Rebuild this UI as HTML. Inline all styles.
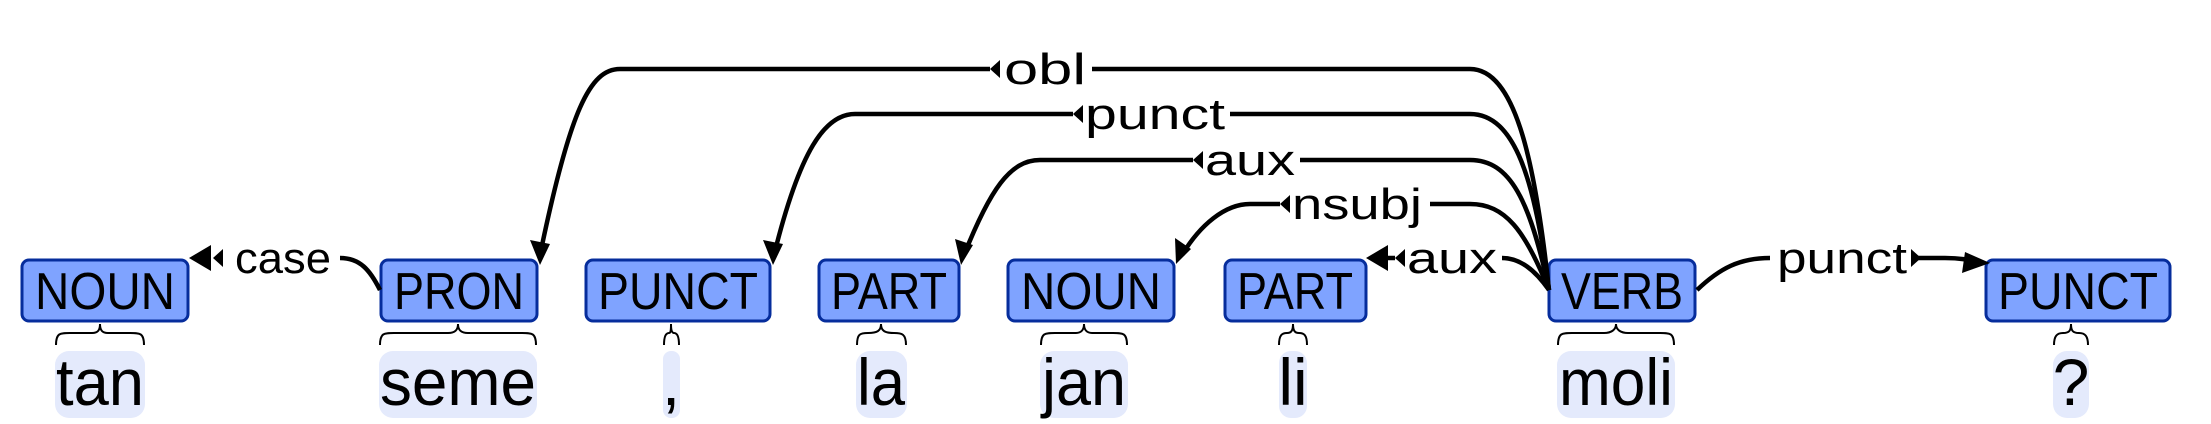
<!DOCTYPE html>
<html><head><meta charset="utf-8"><style>
html,body{margin:0;padding:0;background:#fff;width:2211px;height:424px;overflow:hidden}
text{font-family:"Liberation Sans",sans-serif}
</style></head><body>
<svg width="2211" height="424" viewBox="0 0 2211 424" xmlns="http://www.w3.org/2000/svg">
<g fill="#e4eafc">
<rect x="55" y="351" width="90" height="67" rx="14"/>
<rect x="379" y="351" width="158" height="67" rx="14"/>
<rect x="663" y="351" width="17" height="67" rx="8"/>
<rect x="856" y="351" width="51" height="67" rx="14"/>
<rect x="1040" y="351" width="88" height="67" rx="14"/>
<rect x="1279" y="351" width="28" height="67" rx="12"/>
<rect x="1557" y="351" width="118" height="67" rx="14"/>
<rect x="2053" y="351" width="36" height="67" rx="14"/>
</g>
<g font-size="66" text-anchor="middle" fill="#000">
<text x="100" y="405" textLength="88" lengthAdjust="spacingAndGlyphs">tan</text>
<text x="458" y="405" textLength="156" lengthAdjust="spacingAndGlyphs">seme</text>
<text x="671" y="405">,</text>
<text x="881" y="405" textLength="48" lengthAdjust="spacingAndGlyphs">la</text>
<text x="1084" y="405" textLength="84" lengthAdjust="spacingAndGlyphs">jan</text>
<text x="1293" y="405">li</text>
<text x="1616" y="405" textLength="114" lengthAdjust="spacingAndGlyphs">moli</text>
<text x="2071" y="405">?</text>
</g>
<g fill="none" stroke="#000" stroke-width="2">
<path d="M56,345 C56,333 60,333 70,333 L92,333 C98,333 100,330 100,324 C100,330 102,333 108,333 L130,333 C140,333 144,333 144,345"/>
<path d="M380,345 C380,333 384,333 394,333 L448,333 C455,333 458,330 458,324 C458,330 461,333 468,333 L522,333 C532,333 536,333 536,345"/>
<path d="M664,345 C664,336 666,333 669,333 C671,333 671,330 671,324 C671,330 672,333 674,333 C677,333 679,336 679,345"/>
<path d="M857,345 C857,334 860,333 868,333 C877,333 881,331 881,324 C881,331 885,333 894,333 C902,333 906,334 906,345"/>
<path d="M1041,345 C1041,333 1045,333 1055,333 L1076,333 C1081,333 1084,330 1084,324 C1084,330 1087,333 1092,333 L1113,333 C1123,333 1127,333 1127,345"/>
<path d="M1279,345 C1279,335 1282,333 1287,333 C1291,333 1293,331 1293,324 C1293,331 1295,333 1299,333 C1304,333 1307,335 1307,345"/>
<path d="M1558,345 C1558,333 1562,333 1572,333 L1604,333 C1611,333 1616,330 1616,324 C1616,330 1621,333 1628,333 L1660,333 C1670,333 1674,333 1674,345"/>
<path d="M2054,345 C2054,336 2057,333 2063,333 C2069,333 2071,331 2071,324 C2071,331 2073,333 2079,333 C2085,333 2088,336 2088,345"/>
</g>
<g fill="#7fa3ff" stroke="#062d9c" stroke-width="3">
<rect x="22" y="260" width="166" height="61" rx="7"/>
<rect x="381" y="260" width="156" height="61" rx="7"/>
<rect x="586" y="260" width="184" height="61" rx="7"/>
<rect x="819" y="260" width="140" height="61" rx="7"/>
<rect x="1008" y="260" width="166" height="61" rx="7"/>
<rect x="1225" y="260" width="141" height="61" rx="7"/>
<rect x="1549" y="260" width="146" height="61" rx="7"/>
<rect x="1986" y="260" width="184" height="61" rx="7"/>
</g>
<g font-size="52" text-anchor="middle" fill="#000">
<text x="105" y="309" textLength="140" lengthAdjust="spacingAndGlyphs">NOUN</text>
<text x="459" y="309" textLength="130" lengthAdjust="spacingAndGlyphs">PRON</text>
<text x="678" y="309" textLength="160" lengthAdjust="spacingAndGlyphs">PUNCT</text>
<text x="889" y="309" textLength="116" lengthAdjust="spacingAndGlyphs">PART</text>
<text x="1091" y="309" textLength="140" lengthAdjust="spacingAndGlyphs">NOUN</text>
<text x="1295" y="309" textLength="116" lengthAdjust="spacingAndGlyphs">PART</text>
<text x="1622" y="309" textLength="122" lengthAdjust="spacingAndGlyphs">VERB</text>
<text x="2078" y="309" textLength="160" lengthAdjust="spacingAndGlyphs">PUNCT</text>
</g>
<g fill="none" stroke="#000" stroke-width="4.5">
<path d="M1549,290 C1535,160 1515,69 1470,69 L1092,69 M990,69 L620,69 C590,69 570,110 540,255"/>
<path d="M1549,290 C1535,180 1515,114 1470,114 L1230,114 M1073,114 L855,114 C825,114 800,150 774,255"/>
<path d="M1549,290 C1530,200 1510,160 1470,160 L1300,160 M1193,160 L1040,160 C1010,160 990,190 964,255"/>
<path d="M1549,290 C1525,230 1505,204 1470,204 L1430,204 M1280,204 L1250,204 C1225,204 1200,225 1182,255"/>
<path d="M1549,290 C1535,270 1520,258 1502,258 M1395,258 L1380,258"/>
<path d="M380,290 C370,270 360,258 340,258"/>
<path d="M1697,290 C1720,268 1740,258 1770,258 M1916,258 L1945,258 C1960,258 1970,260 1980,262"/>
</g>
<g fill="#000">
<polygon points="540,265 530,240 550,244"/>
<polygon points="773,265 763,240 783,244"/>
<polygon points="961,265 955,239 973,245"/>
<polygon points="1176,264 1175,238 1191,249"/>
<polygon points="1366,258 1388,245 1388,271"/>
<polygon points="189,258 211,245 211,271"/>
<polygon points="1990,263 1965,252 1962,273"/>
<polygon points="1000,60 990,69 1000,78"/>
<polygon points="1083,105 1073,114 1083,123"/>
<polygon points="1203,151 1193,160 1203,169"/>
<polygon points="1290,195 1280,204 1290,213"/>
<polygon points="1405,249 1395,258 1405,267"/>
<polygon points="223,249 213,258 223,267"/>
<polygon points="1911,249 1921,258 1911,267"/>
</g>
<g font-size="44" text-anchor="middle" fill="#000">
<text x="1045" y="84" textLength="82" lengthAdjust="spacingAndGlyphs">obl</text>
<text x="1155" y="129" textLength="140" lengthAdjust="spacingAndGlyphs">punct</text>
<text x="1250" y="175" textLength="90" lengthAdjust="spacingAndGlyphs">aux</text>
<text x="1357" y="219" textLength="130" lengthAdjust="spacingAndGlyphs">nsubj</text>
<text x="1452" y="273" textLength="90" lengthAdjust="spacingAndGlyphs">aux</text>
<text x="283" y="273" textLength="96" lengthAdjust="spacingAndGlyphs">case</text>
<text x="1842" y="273" textLength="130" lengthAdjust="spacingAndGlyphs">punct</text>
</g>
</svg>
</body></html>
